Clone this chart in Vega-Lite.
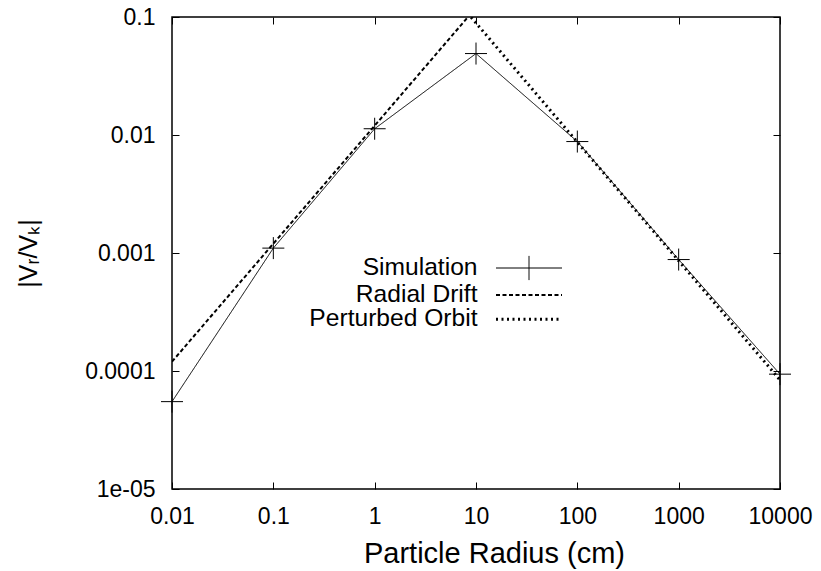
{
  "$schema": "https://vega.github.io/schema/vega-lite/v6.json",
  "width": 608,
  "height": 472,
  "autosize": {"type": "none"},
  "padding": {"left": 172, "top": 17, "right": 41, "bottom": 82},
  "background": "white",
  "config": {
    "view": {"stroke": "black", "strokeWidth": 1.5},
    "font": "Liberation Sans",
    "axis": {"grid": false, "labelColor": "black", "titleColor": "black", "labelFont": "Liberation Sans", "titleFont": "Liberation Sans", "labelFlush": false, "titleFontWeight": "normal"}
  },
  "data": {
    "values": [
      {"series": "Simulation", "radius": 0.01, "value": 0.000055},
      {"series": "Simulation", "radius": 0.1, "value": 0.0011},
      {"series": "Simulation", "radius": 1, "value": 0.0113},
      {"series": "Simulation", "radius": 10, "value": 0.049},
      {"series": "Simulation", "radius": 100, "value": 0.0088},
      {"series": "Simulation", "radius": 1000, "value": 0.00088},
      {"series": "Simulation", "radius": 10000, "value": 0.000094},
      {"series": "Radial Drift", "radius": 0.01, "value": 0.00012},
      {"series": "Radial Drift", "radius": 0.1, "value": 0.0012},
      {"series": "Radial Drift", "radius": 1, "value": 0.012},
      {"series": "Radial Drift", "radius": 10, "value": 0.12},
      {"series": "Perturbed Orbit", "radius": 1, "value": 0.9},
      {"series": "Perturbed Orbit", "radius": 10, "value": 0.089},
      {"series": "Perturbed Orbit", "radius": 100, "value": 0.0087},
      {"series": "Perturbed Orbit", "radius": 1000, "value": 0.00086},
      {"series": "Perturbed Orbit", "radius": 10000, "value": 0.000084}
    ]
  },
  "resolve": {"axis": {"x": "independent", "y": "independent"}},
  "layer": [
    {
      "mark": {"type": "line", "clip": true, "color": "black"},
      "encoding": {
        "x": {"field": "radius", "type": "quantitative",
          "scale": {"type": "log", "domain": [0.01, 10000], "nice": false},
          "axis": {"orient": "bottom", "values": [0.01, 0.1, 1, 10, 100, 1000, 10000], "labelExpr": "toString(datum.value)", "ticks": false, "domain": false, "labelFontSize": 23, "labelPadding": 34, "labelBaseline": "alphabetic", "title": "Particle Radius (cm)", "titleFontSize": 29, "titleX": 322, "titleY": 73, "titleBaseline": "alphabetic", "titleAlign": "center"}},
        "y": {"field": "value", "type": "quantitative",
          "scale": {"type": "log", "domain": [0.00001, 0.1], "nice": false},
          "axis": {"orient": "left", "values": [0.00001, 0.0001, 0.001, 0.01, 0.1], "labelExpr": "datum.value < 0.00005 ? '1e-05' : toString(datum.value)", "ticks": false, "domain": false, "labelFontSize": 23, "labelPadding": 17, "labelBaseline": "middle", "title": "|Vᵣ/Vₖ|", "titleFontSize": 25, "titleX": -144, "titleY": 236, "titleAngle": -90, "titleAlign": "center", "titleBaseline": "middle"}},
        "strokeDash": {"field": "series", "type": "nominal",
          "scale": {"domain": ["Simulation", "Radial Drift", "Perturbed Orbit"], "range": [[1, 0], [4, 2.5], [2, 3.5]]},
          "legend": {"orient": "none", "legendX": 344.5, "legendY": 238.7, "title": null, "labelAlign": "right", "labelOffset": -64, "labelFontSize": 24.6, "labelFont": "Liberation Sans", "labelColor": "black", "padding": 0, "rowPadding": -2.5, "symbolSize": 484, "symbolType": "M-3,0H3", "symbolStrokeColor": "black", "symbolFillColor": "transparent", "symbolOpacity": 1, "labelLimit": 400}},
        "strokeWidth": {"field": "series", "type": "nominal",
          "scale": {"domain": ["Simulation", "Radial Drift", "Perturbed Orbit"], "range": [1, 3, 2]}}
      }
    },
    {
      "transform": [{"filter": "datum.series === 'Simulation'"}],
      "mark": {"type": "point", "shape": "M-1,0H1M0,-1V1", "size": 484, "filled": false, "stroke": "black", "strokeWidth": 1, "opacity": 1},
      "encoding": {
        "x": {"field": "radius", "type": "quantitative", "scale": {"type": "log", "domain": [0.01, 10000], "nice": false},
          "axis": {"orient": "bottom", "values": [0.01, 0.1, 1, 10, 100, 1000, 10000], "labels": false, "domain": false, "tickSize": -7, "tickColor": "black", "title": null}},
        "y": {"field": "value", "type": "quantitative", "scale": {"type": "log", "domain": [0.00001, 0.1], "nice": false},
          "axis": {"orient": "left", "values": [0.00001, 0.0001, 0.001, 0.01, 0.1], "labels": false, "domain": false, "tickSize": -7, "tickColor": "black", "title": null}}
      }
    },
    {
      "transform": [{"filter": "datum.series === 'Simulation'"}],
      "mark": {"type": "point", "opacity": 0},
      "encoding": {
        "x": {"field": "radius", "type": "quantitative",
          "axis": {"orient": "top", "values": [0.01, 0.1, 1, 10, 100, 1000, 10000], "labels": false, "domain": false, "tickSize": -7, "tickColor": "black", "title": null}},
        "y": {"field": "value", "type": "quantitative",
          "axis": {"orient": "right", "values": [0.00001, 0.0001, 0.001, 0.01, 0.1], "labels": false, "domain": false, "tickSize": -7, "tickColor": "black", "title": null}}
      }
    },
    {
      "transform": [{"filter": "datum.series === 'none'"}],
      "mark": {"type": "point", "filled": false, "stroke": "black", "color": "black", "strokeWidth": 1},
      "encoding": {
        "x": {"field": "radius", "type": "quantitative", "axis": null},
        "y": {"field": "value", "type": "quantitative", "axis": null},
        "shape": {"field": "series", "type": "nominal",
          "scale": {"domain": ["Simulation", "Radial Drift", "Perturbed Orbit"], "range": ["M-3,0H3M0,-1.1V1.1", "M-3,0H3", "M-3,0H3"]},
          "legend": {"orient": "none", "legendX": 344.5, "legendY": 238.7, "title": null, "labelAlign": "right", "labelOffset": -64, "labelFontSize": 24.6, "labelFont": "Liberation Sans", "labelColor": "black", "padding": 0, "rowPadding": -2.5, "symbolSize": 484, "symbolStrokeColor": "black", "symbolFillColor": "transparent", "symbolOpacity": 1, "labelLimit": 400}}
      }
    }
  ]
}
